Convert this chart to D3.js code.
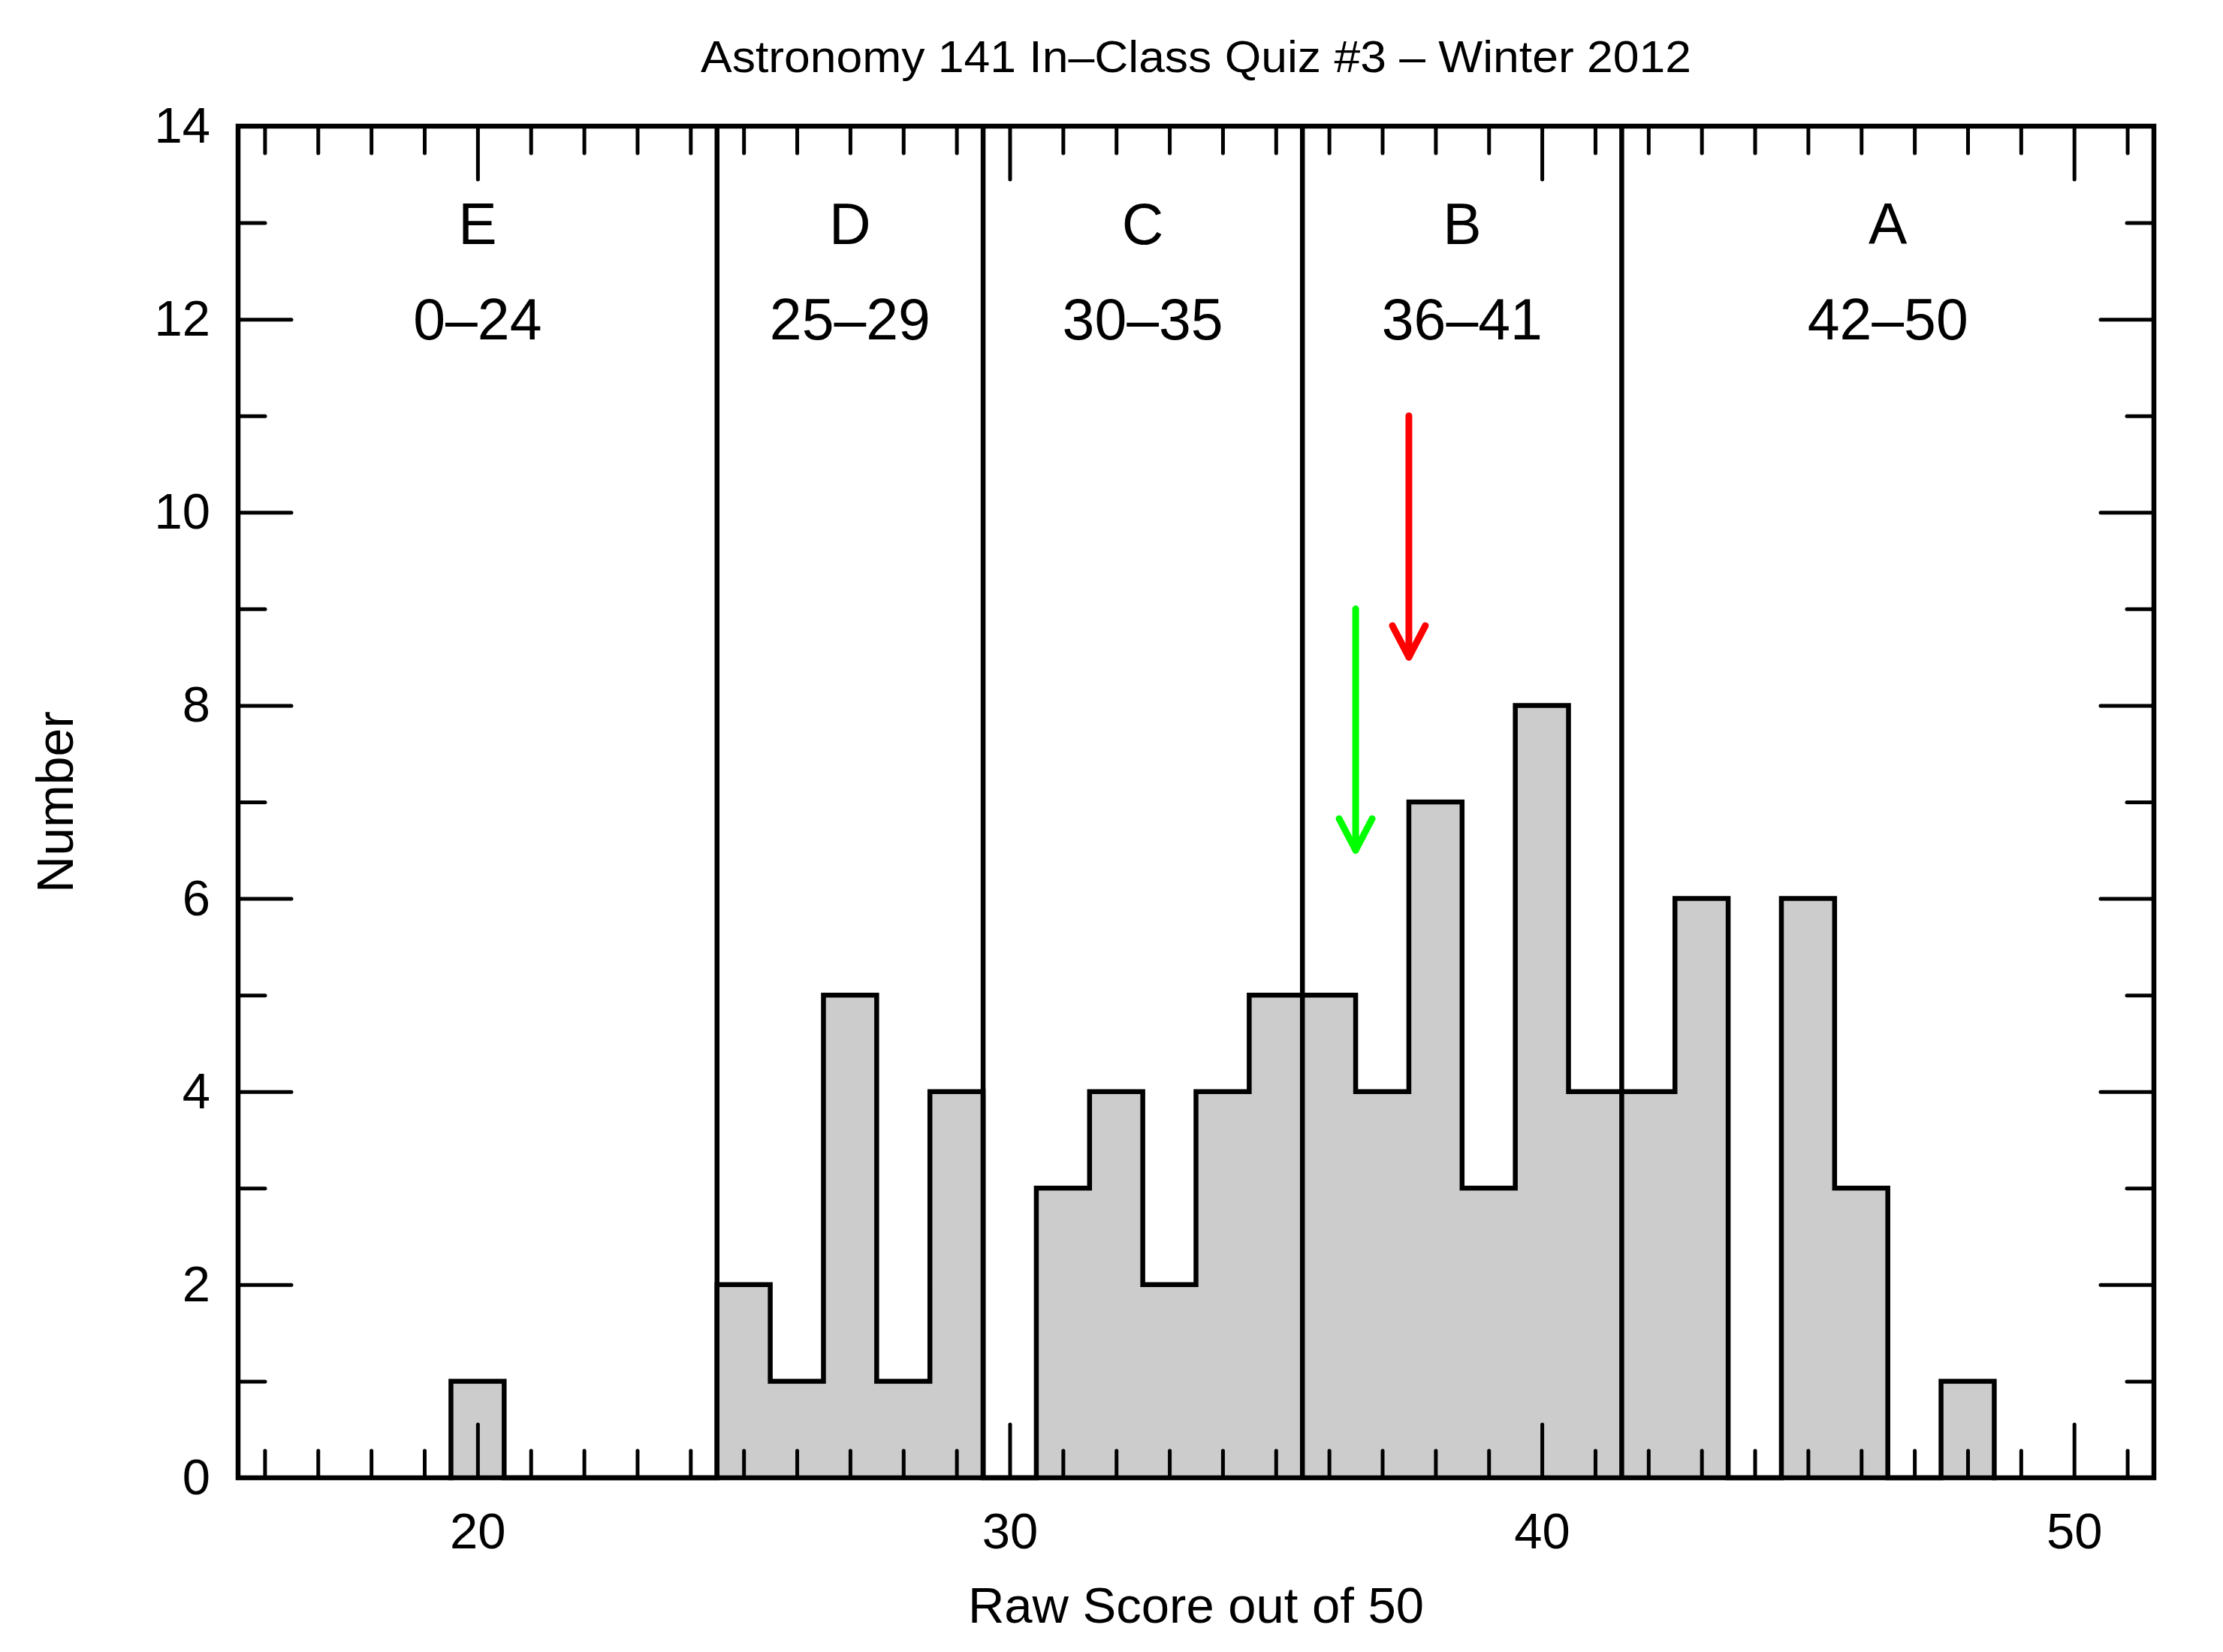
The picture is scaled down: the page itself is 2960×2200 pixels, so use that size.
<!DOCTYPE html>
<html>
<head>
<meta charset="utf-8">
<script src="https://cdn.jsdelivr.net/npm/d3@7"></script>
<style>
  html, body { margin: 0; padding: 0; background: #fff; }
  svg { display: block; }
  text { font-family: "Liberation Sans", Arial, Helvetica, sans-serif; fill: #000; }
</style>
</head>
<body>
<script>
// ---- Data ----
const scores = [20, 21, 22, 23, 24, 25, 26, 27, 28, 29, 30, 31, 32, 33, 34, 35, 36, 37, 38, 39, 40, 41, 42, 43, 44, 45, 46, 47, 48];
const counts = [ 1,  0,  0,  0,  0,  2,  1,  5,  1,  4,  0,  3,  4,  2,  4,  5,  5,  4,  7,  3,  8,  4,  4,  6,  0,  6,  3,  0,  1];

const gradeLetters = ["E", "D", "C", "B", "A"];
const gradeRanges  = ["0\u201324", "25\u201329", "30\u201335", "36\u201341", "42\u201350"];
const gradeCenters = [20, 27, 32.5, 38.5, 46.5];
const gradeBoundaries = [24.5, 29.5, 35.5, 41.5];

const arrowX     = [36.5, 37.5];
const arrowTop   = [9, 11];
const arrowTip   = [6.5, 8.5];
const arrowColor = ["#00ff00", "#ff0000"];

const xMajorTicks = [20, 30, 40, 50];
const yMajorTicks = [0, 2, 4, 6, 8, 10, 12, 14];

const titleText = "Astronomy 141 In\u2013Class Quiz #3 \u2013 Winter 2012";
const xTitle = "Raw Score out of 50";
const yTitle = "Number";

// ---- Layout ----
const W = 2960, H = 2200;
const L = 317, R = 2868, T = 168, B = 1968;
const LW = 6.5;

const x = d3.scaleLinear().domain([15.5, 51.5]).range([L, R]);
const y = d3.scaleLinear().domain([0, 14]).range([B, T]);

const xMinorTicks = d3.range(16, 52).filter(v => !xMajorTicks.includes(v));
const yMinorTicks = d3.range(1, 14, 2);

const svg = d3.select("body").append("svg").attr("width", W).attr("height", H);
svg.append("rect").attr("width", W).attr("height", H).attr("fill", "#fff");

// ---- Histogram (step) ----
const pts = [[scores[0] - 0.5, 0]];
scores.forEach((s, i) => { pts.push([s - 0.5, counts[i]]); pts.push([s + 0.5, counts[i]]); });
pts.push([scores[scores.length - 1] + 0.5, 0]);
const line = d3.line().x(d => x(d[0])).y(d => y(d[1]));
svg.append("path").attr("d", line(pts) + "Z")
  .attr("fill", "#cccccc").attr("stroke", "none");
svg.append("path").attr("d", line(pts))
  .attr("fill", "none").attr("stroke", "#000").attr("stroke-width", LW)
  .attr("stroke-linejoin", "miter").attr("stroke-linecap", "square");

// ---- Grade boundaries ----
svg.selectAll("line.bound").data(gradeBoundaries).enter().append("line")
  .attr("x1", d => x(d)).attr("x2", d => x(d)).attr("y1", B).attr("y2", T)
  .attr("stroke", "#000").attr("stroke-width", LW);

// ---- Grade labels ----
svg.selectAll("text.letter").data(gradeLetters).enter().append("text")
  .attr("x", (d, i) => x(gradeCenters[i])).attr("y", y(13) + 28)
  .attr("text-anchor", "middle").attr("font-size", 77).text(d => d);
svg.selectAll("text.range").data(gradeRanges).enter().append("text")
  .attr("x", (d, i) => x(gradeCenters[i])).attr("y", y(12) + 27)
  .attr("text-anchor", "middle").attr("font-size", 77).text(d => d);

// ---- Arrows ----
arrowX.forEach((ax, i) => {
  const g = svg.append("g").attr("stroke", arrowColor[i]).attr("stroke-width", 9)
    .attr("fill", "none").attr("stroke-linecap", "round").attr("stroke-linejoin", "round");
  const px = x(ax), pt = y(arrowTip[i]);
  g.append("line").attr("x1", px).attr("x2", px).attr("y1", y(arrowTop[i])).attr("y2", pt);
  g.append("path").attr("d", `M${px - 22},${pt - 42}L${px},${pt}L${px + 22},${pt - 42}`);
});

// ---- Axes ----
function styleAxis(g) {
  g.select(".domain").remove();
  g.selectAll(".tick line").attr("stroke", "#000").attr("stroke-width", 5).attr("stroke-linecap", "round");
  g.selectAll(".tick text").attr("font-size", 67).attr("fill", "#000")
    .attr("font-family", '"Liberation Sans", Arial, Helvetica, sans-serif');
}
// bottom
svg.append("g").attr("transform", `translate(0,${B})`)
  .call(d3.axisBottom(x).tickValues(xMinorTicks).tickSize(-36).tickSizeOuter(0).tickFormat("")).call(styleAxis);
svg.append("g").attr("transform", `translate(0,${B})`)
  .call(d3.axisBottom(x).tickValues(xMajorTicks).tickSize(-71).tickSizeOuter(0).tickPadding(46).tickFormat(d3.format("d"))).call(styleAxis);
// top
svg.append("g").attr("transform", `translate(0,${T})`)
  .call(d3.axisTop(x).tickValues(xMinorTicks).tickSize(-36).tickSizeOuter(0).tickFormat("")).call(styleAxis);
svg.append("g").attr("transform", `translate(0,${T})`)
  .call(d3.axisTop(x).tickValues(xMajorTicks).tickSize(-71).tickSizeOuter(0).tickFormat("")).call(styleAxis);
// left
svg.append("g").attr("transform", `translate(${L},0)`)
  .call(d3.axisLeft(y).tickValues(yMinorTicks).tickSize(-36).tickSizeOuter(0).tickFormat("")).call(styleAxis);
svg.append("g").attr("transform", `translate(${L},0)`)
  .call(d3.axisLeft(y).tickValues(yMajorTicks).tickSize(-71).tickSizeOuter(0).tickPadding(37).tickFormat(d3.format("d"))).call(styleAxis);
// right
svg.append("g").attr("transform", `translate(${R},0)`)
  .call(d3.axisRight(y).tickValues(yMinorTicks).tickSize(-36).tickSizeOuter(0).tickFormat("")).call(styleAxis);
svg.append("g").attr("transform", `translate(${R},0)`)
  .call(d3.axisRight(y).tickValues(yMajorTicks).tickSize(-71).tickSizeOuter(0).tickFormat("")).call(styleAxis);

// frame
svg.append("rect").attr("x", L).attr("y", T).attr("width", R - L).attr("height", B - T)
  .attr("fill", "none").attr("stroke", "#000").attr("stroke-width", LW);

// ---- Titles ----
svg.append("text").attr("x", (L + R) / 2).attr("y", 96).attr("text-anchor", "middle")
  .attr("font-size", 60).attr("textLength", 1319).attr("lengthAdjust", "spacingAndGlyphs").text(titleText);
svg.append("text").attr("x", (L + R) / 2).attr("y", 2161).attr("text-anchor", "middle")
  .attr("font-size", 67).text(xTitle);
svg.append("text").attr("transform", `translate(97,${(T + B) / 2}) rotate(-90)`)
  .attr("text-anchor", "middle").attr("font-size", 68).text(yTitle);
</script>
</body>
</html>
